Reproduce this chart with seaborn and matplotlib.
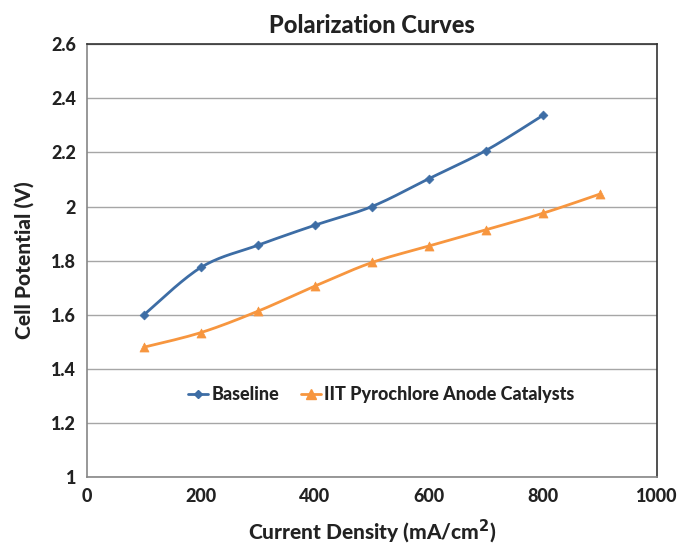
import numpy as np
import pandas as pd
import matplotlib
matplotlib.use("Agg")
import matplotlib.pyplot as plt
import seaborn as sns

baseline_x = [100, 200, 300, 400, 500, 600, 700, 800]
baseline_y = [1.60, 1.775, 1.857, 1.931, 2.00, 2.103, 2.207, 2.337]
iit_x = [100, 200, 300, 400, 500, 600, 700, 800, 900]
iit_y = [1.480, 1.534, 1.613, 1.706, 1.793, 1.854, 1.914, 1.975, 2.046]
series_names = ["Baseline", "IIT Pyrochlore Anode Catalysts"]
colors = ["#3D6DA5", "#F7963F"]

sns.set_theme(style="white")
plt.rcParams['font.family'] = ['Lato', 'DejaVu Sans']
W = 900


def smooth(xs, ys, xr=1000.0, yr=1.6, n=20):
    # Bezier smoothing through the points (like spreadsheet "smoothed line")
    P = np.column_stack([np.array(xs) / xr, np.array(ys) / yr])
    out = [P[0]]
    for i in range(len(P) - 1):
        p0 = P[i - 1] if i > 0 else P[i]
        p1, p2 = P[i], P[i + 1]
        p3 = P[i + 2] if i + 2 < len(P) else P[i + 1]
        c1 = p1 + (p2 - p0) / 6.0
        c2 = p2 - (p3 - p1) / 6.0
        t = np.linspace(0, 1, n)[1:, None]
        seg = ((1 - t) ** 3) * p1 + 3 * ((1 - t) ** 2) * t * c1 + 3 * (1 - t) * t ** 2 * c2 + t ** 3 * p2
        out.extend(seg)
    out = np.array(out)
    return out[:, 0] * xr, out[:, 1] * yr


fig = plt.figure(figsize=(6.8, 5.46), dpi=100)
ax = fig.add_axes([0.128, 0.1264, 0.838, 0.7926])

for (xs, ys, name, c, m, ms) in [
    (baseline_x, baseline_y, series_names[0], colors[0], "D", 4.5),
    (iit_x, iit_y, series_names[1], colors[1], "^", 6.5),
]:
    sx, sy = smooth(xs, ys)
    sns.lineplot(x=sx, y=sy, ax=ax, color=c, lw=2.0, sort=False, estimator=None)
    sns.scatterplot(x=xs, y=ys, ax=ax, color=c, marker=m, s=ms ** 2, edgecolor=c, linewidth=0.5, zorder=3)
    ax.plot([], [], color=c, lw=2.0, marker=m, markersize=ms, label=name)

ax.set_xlim(0, 1000)
ax.set_ylim(1, 2.6)
ax.set_xticks(np.arange(0, 1001, 200))
ax.set_yticks(np.arange(1, 2.61, 0.2))
ax.set_yticklabels(["1", "1.2", "1.4", "1.6", "1.8", "2", "2.2", "2.4", "2.6"])
ax.yaxis.grid(True, color="#A6A6A6", lw=1.0)
ax.xaxis.grid(False)
ax.tick_params(axis="both", labelsize=13, pad=8, length=0, colors="#222222")
for lab in ax.get_xticklabels() + ax.get_yticklabels():
    lab.set_fontweight(W)
ax.spines["left"].set_color("#868686")
ax.spines["bottom"].set_color("#868686")
ax.spines["top"].set_color("#333333")
ax.spines["right"].set_color("#333333")
for s in ax.spines.values():
    s.set_linewidth(1.2)

ax.set_title("Polarization Curves", fontsize=17, fontweight=W, pad=8, color="#222222")
ax.set_xlabel("Current Density (mA/cm$^\\mathbf{2}$)", fontsize=15, fontweight=W, labelpad=9, color="#222222")
ax.set_ylabel("Cell Potential (V)", fontsize=15, fontweight=W, labelpad=12, color="#222222")

leg = ax.legend(loc="center", bbox_to_anchor=(0.516, 0.19), ncol=2, frameon=False,
                prop={"weight": W, "size": 13}, handlelength=1.1, handletextpad=0.2,
                columnspacing=1.2)
for t in leg.get_texts():
    t.set_color("#222222")

fig.savefig("out.png", dpi=100)
